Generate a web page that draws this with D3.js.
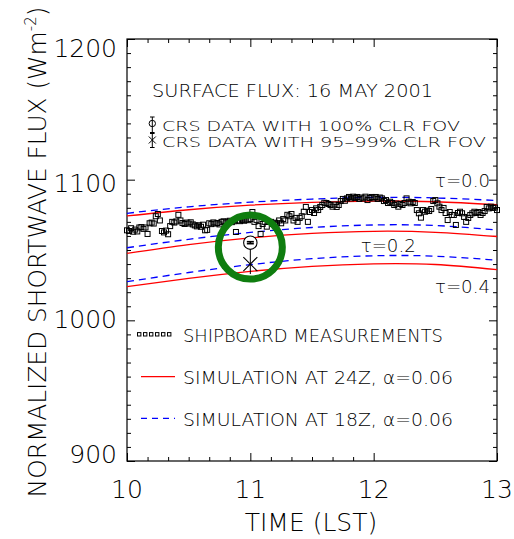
<!DOCTYPE html>
<html><head><meta charset="utf-8">
<script src="https://cdn.jsdelivr.net/npm/d3@7"></script>
<style>html,body{margin:0;padding:0;background:#fff;} svg{display:block;font-family:"DejaVu Sans",sans-serif;font-weight:200;}</style>
</head><body><svg id="c" width="514" height="539"></svg>
<script>
// ---- data ----
const xTickLabels = [10, 11, 12, 13];
const yTickLabels = [900, 1000, 1100, 1200];
const simTimes = [10, 10.5, 11, 11.5, 12, 12.5, 13];
const red00  = [1074.2, 1078.6, 1081.9, 1083.9, 1084.8, 1084.3, 1082.2];
const blue00 = [1076.1, 1080.7, 1084.0, 1086.2, 1087.4, 1087.0, 1085.2];
const red02  = [1047.6, 1053.8, 1058.6, 1061.8, 1063.3, 1062.6, 1059.6];
const blue02 = [1051.6, 1057.6, 1062.5, 1066.0, 1067.8, 1067.4, 1064.2];
const red04  = [1023.9, 1029.8, 1034.8, 1038.4, 1040.2, 1039.7, 1036.0];
const blue04 = [1027.5, 1034.0, 1039.6, 1043.8, 1045.9, 1045.6, 1042.7];
const shipStartHour = 10, shipStepMinutes = 1;
const shipFlux = [
1064.0,1063.5,1065.5,1063.0,1064.5,1063.2,1066.0,1066.3,1065.0,1066.0,
1061.4,1069.0,1069.5,1068.8,1074.0,1075.6,1071.0,1063.5,1062.5,1063.8,
1061.2,1067.0,1070.0,1069.5,1070.3,1075.0,1071.0,1069.2,1068.5,1069.5,
1068.8,1069.7,1068.2,1067.5,1066.8,1067.6,1066.5,1068.0,1064.0,1064.3,
1069.0,1068.4,1069.6,1068.8,1069.2,1068.2,1070.0,1070.4,1069.6,1070.2,
1070.8,1069.8,1070.4,1062.8,1071.0,1070.5,1071.4,1070.8,1071.6,1071.2,
1072.0,1077.0,1070.0,1071.4,1067.0,1061.4,1068.5,1070.0,1066.6,1070.0,
1070.0,1068.5,1069.4,1069.0,1071.0,1069.0,1072.0,1071.0,1075.0,1074.0,
1075.6,1071.0,1072.8,1070.0,1072.8,1074.0,1077.2,1080.6,1070.0,1077.0,
1078.4,1076.3,1079.6,1078.4,1080.6,1082.0,1083.6,1083.4,1082.7,1082.0,
1080.8,1082.3,1080.6,1082.0,1084.8,1086.3,1085.0,1086.7,1087.7,1086.7,
1087.9,1087.0,1087.7,1086.3,1087.3,1086.7,1087.9,1085.5,1087.0,1087.7,
1086.7,1087.7,1086.3,1087.3,1086.7,1084.8,1085.5,1083.4,1084.3,1083.4,
1082.0,1083.0,1080.8,1082.7,1082.0,1083.4,1086.7,1084.3,1083.2,1084.1,
1083.4,1078.4,1076.1,1073.0,1078.4,1077.2,1078.0,1077.7,1079.1,1084.8,
1085.5,1083.2,1080.8,1078.4,1079.9,1076.3,1071.3,1077.0,1074.9,1074.9,
1067.8,1076.3,1077.2,1076.1,1073.5,1070.0,1072.8,1074.9,1076.1,1077.2,
1076.3,1077.0,1074.9,1076.3,1077.7,1080.6,1079.6,1080.8,1079.9,1080.2,1078.4];
const crsTime = 11.0;
const crs100 = {value: 1055.2, lo: 1054.5, hi: 1055.9};
const crs95  = {value: 1040.0, lo: 1032.9, hi: 1050.6};
const tauLabels = [
  {text: "τ=0.0", t: 12.497, v: 1094.6},
  {text: "τ=0.2", t: 11.895, v: 1048.8},
  {text: "τ=0.4", t: 12.497, v: 1019.6}];
const highlight = {t: 11.0, v: 1052.1};

// ---- layout ----
const L = 127, R = 497, T = 39, B = 461;
const svg = d3.select("#c");
const x = d3.scaleLinear().domain([10, 13]).range([L, R]);
const y = d3.scaleLinear().domain([900, 1200]).range([B, T]);
const yLab = d3.scaleLinear().domain([900, 1200]).range([463, 57]);

const minorX = d3.range(60, 181, 10).map(m => m / 60 + 9).filter(v => v > 10 && v < 13 && Math.abs(v - Math.round(v)) > 1e-6);
const minorY = d3.range(910, 1200, 10).filter(v => v % 100 !== 0);

function ax(gen, tr, vals, size) {
  svg.append("g").attr("transform", tr)
    .call(gen.tickValues(vals).tickSize(size).tickFormat("").tickSizeOuter(0))
    .call(g => g.select(".domain").remove())
    .selectAll("line").attr("stroke", "#000").attr("stroke-width", 1);
}
ax(d3.axisBottom(x), `translate(0,${B})`, xTickLabels, -8);
ax(d3.axisBottom(x), `translate(0,${B})`, minorX, -4);
ax(d3.axisTop(x), `translate(0,${T})`, xTickLabels, -8);
ax(d3.axisTop(x), `translate(0,${T})`, minorX, -4);
ax(d3.axisLeft(y), `translate(${L},0)`, yTickLabels, -8);
ax(d3.axisLeft(y), `translate(${L},0)`, minorY, -4);
ax(d3.axisRight(y), `translate(${R},0)`, yTickLabels, -8);
ax(d3.axisRight(y), `translate(${R},0)`, minorY, -4);

svg.append("rect").attr("x", L).attr("y", T).attr("width", R - L).attr("height", B - T)
  .attr("fill", "none").attr("stroke", "#000").attr("stroke-width", 1.2);

// tick labels
svg.selectAll(".xl").data(xTickLabels).enter().append("text")
  .attr("x", d => x(d)).attr("y", 498).attr("text-anchor", "middle")
  .attr("font-size", 25).text(d => d);
svg.selectAll(".yl").data(yTickLabels).enter().append("text")
  .attr("x", 117).attr("y", d => yLab(d)).attr("text-anchor", "end")
  .attr("font-size", 25).text(d => d);

// axis titles
svg.append("text").attr("x", 311).attr("y", 531).attr("text-anchor", "middle")
  .attr("font-size", 25).text("TIME (LST)");
const yt = svg.append("text").attr("transform", "translate(46,252) rotate(-90)")
  .attr("text-anchor", "middle").attr("font-size", 24.8);
yt.append("tspan").text("NORMALIZED SHORTWAVE FLUX (Wm");
yt.append("tspan").attr("font-size", 15).attr("dy", -10).text("-2");
yt.append("tspan").attr("dy", 10).text(")");

// simulation curves
const line = d3.line().x((d, i) => x(simTimes[i])).y(d => y(d)).curve(d3.curveNatural);
[red00, red02, red04].forEach(s => svg.append("path").attr("d", line(s))
  .attr("fill", "none").attr("stroke", "#ff0000").attr("stroke-width", 1.3));
[blue00, blue02, blue04].forEach(s => svg.append("path").attr("d", line(s))
  .attr("fill", "none").attr("stroke", "#0000ff").attr("stroke-width", 1.3).attr("stroke-dasharray", "7,5"));

// shipboard squares
svg.append("g").selectAll("rect").data(shipFlux).enter().append("rect")
  .attr("x", (d, i) => x(shipStartHour + i * shipStepMinutes / 60) - 2.5)
  .attr("y", d => y(d) - 2.5).attr("width", 5).attr("height", 5)
  .attr("fill", "none").attr("stroke", "#000").attr("stroke-width", 1);

// tau labels
svg.selectAll(".tau").data(tauLabels).enter().append("text")
  .attr("x", d => x(d.t)).attr("y", d => y(d.v)).attr("font-size", 17.5)
  .attr("textLength", 55).attr("lengthAdjust", "spacingAndGlyphs").text(d => d.text);

// CRS points
const cx = x(crsTime);
svg.append("line").attr("x1", cx).attr("x2", cx).attr("y1", y(crs95.lo)).attr("y2", y(crs95.hi))
  .attr("stroke", "#000").attr("stroke-width", 1);
svg.append("path").attr("d", `M${cx - 7},${y(crs95.value) - 7}L${cx + 7},${y(crs95.value) + 7}M${cx - 7},${y(crs95.value) + 7}L${cx + 7},${y(crs95.value) - 7}`)
  .attr("stroke", "#000").attr("stroke-width", 1.1);
svg.append("circle").attr("cx", cx).attr("cy", y(crs100.value)).attr("r", 6.7)
  .attr("fill", "#fff").attr("stroke", "#000").attr("stroke-width", 1.1);
[crs100.lo, crs100.hi].forEach(v => svg.append("line").attr("x1", cx - 3.5).attr("x2", cx + 3.5)
  .attr("y1", y(v)).attr("y2", y(v)).attr("stroke", "#000").attr("stroke-width", 1.6));
svg.append("line").attr("x1", cx).attr("x2", cx).attr("y1", y(crs100.lo)).attr("y2", y(crs100.hi))
  .attr("stroke", "#000").attr("stroke-width", 1.6);

// green highlight ring
svg.append("circle").attr("cx", x(highlight.t)).attr("cy", y(highlight.v)).attr("r", 32)
  .attr("fill", "none").attr("stroke", "#0f7d0f").attr("stroke-width", 7);

// top legend
svg.append("text").attr("x", 152).attr("y", 96.7).attr("font-size", 17)
  .attr("textLength", 281).attr("lengthAdjust", "spacingAndGlyphs").text("SURFACE FLUX: 16 MAY 2001");
svg.append("text").attr("x", 162).attr("y", 131).attr("font-size", 13.5)
  .attr("textLength", 298).attr("lengthAdjust", "spacingAndGlyphs").text("CRS DATA WITH 100% CLR FOV");
svg.append("text").attr("x", 162).attr("y", 147.2).attr("font-size", 13.5)
  .attr("textLength", 324).attr("lengthAdjust", "spacingAndGlyphs").text("CRS DATA WITH 95–99% CLR FOV");
// legend symbols
const g1 = svg.append("g").attr("stroke", "#000").attr("fill", "none").attr("stroke-width", 1);
g1.append("circle").attr("cx", 152.3).attr("cy", 123.5).attr("r", 3.2);
g1.append("line").attr("x1", 152.3).attr("x2", 152.3).attr("y1", 117).attr("y2", 132.5);
g1.append("line").attr("x1", 150).attr("x2", 154.6).attr("y1", 117).attr("y2", 117);
g1.append("line").attr("x1", 150).attr("x2", 154.6).attr("y1", 132.5).attr("y2", 132.5);
g1.append("path").attr("d", "M148.8,136.5L155.8,143.5M148.8,143.5L155.8,136.5");
g1.append("line").attr("x1", 152.3).attr("x2", 152.3).attr("y1", 133.5).attr("y2", 147.5);
g1.append("line").attr("x1", 150).attr("x2", 154.6).attr("y1", 133.5).attr("y2", 133.5);
g1.append("line").attr("x1", 150).attr("x2", 154.6).attr("y1", 147.5).attr("y2", 147.5);

// bottom legend
const sq = [0, 1, 2, 3, 4, 5];
svg.append("g").selectAll("rect").data(sq).enter().append("rect")
  .attr("x", d => 137.5 + d * 6).attr("y", 332.6).attr("width", 3.4).attr("height", 3.4)
  .attr("fill", "none").attr("stroke", "#000").attr("stroke-width", 1);
svg.append("line").attr("x1", 141).attr("x2", 175).attr("y1", 376.7).attr("y2", 376.7)
  .attr("stroke", "#ff0000").attr("stroke-width", 1.3);
svg.append("line").attr("x1", 141).attr("x2", 175).attr("y1", 418.3).attr("y2", 418.3)
  .attr("stroke", "#0000ff").attr("stroke-width", 1.3).attr("stroke-dasharray", "6,5");
svg.append("text").attr("x", 183).attr("y", 341.7).attr("font-size", 18)
  .attr("textLength", 260).attr("lengthAdjust", "spacingAndGlyphs").text("SHIPBOARD MEASUREMENTS");
svg.append("text").attr("x", 183).attr("y", 384).attr("font-size", 18)
  .attr("textLength", 270).attr("lengthAdjust", "spacingAndGlyphs").text("SIMULATION AT 24Z, α=0.06");
svg.append("text").attr("x", 183).attr("y", 425.5).attr("font-size", 18)
  .attr("textLength", 270).attr("lengthAdjust", "spacingAndGlyphs").text("SIMULATION AT 18Z, α=0.06");
</script></body></html>
